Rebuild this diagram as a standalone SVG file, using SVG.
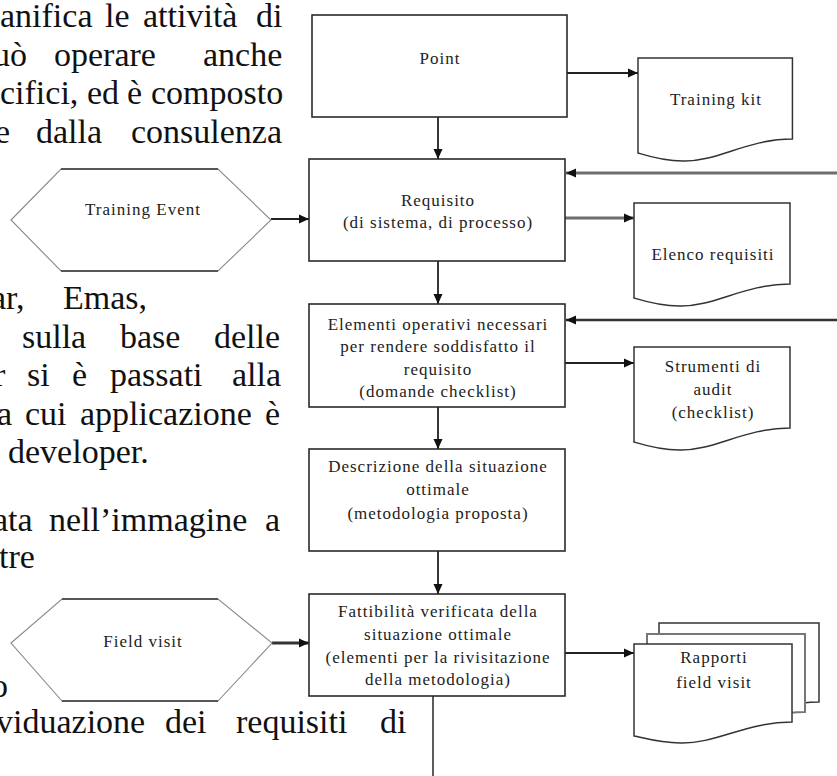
<svg xmlns="http://www.w3.org/2000/svg" width="837" height="776" viewBox="0 0 837 776">
<defs>
<style>
.para{font-family:"Liberation Serif","Times New Roman",serif;font-size:34px;fill:#111}
.lbl{font-family:"Liberation Serif","Times New Roman",serif;font-size:17px;fill:#222;text-anchor:middle;letter-spacing:1px}
.box{fill:#fff;stroke:#2a2a2a;stroke-width:1.6}
.doc{fill:#fff;stroke:#333;stroke-width:1.5}
.hex{fill:#fff;stroke:#8a8a8a;stroke-width:1.1}
.hexe{stroke:#333;stroke-width:1.6}
.c{fill:none;stroke:#222;stroke-width:1.8;marker-end:url(#ah)}
.cg{fill:none;stroke:#6e6e6e;stroke-width:3;marker-end:url(#ah)}
</style>
<marker id="ah" markerUnits="userSpaceOnUse" markerWidth="10" markerHeight="10" viewBox="0 0 10 10" refX="10" refY="5" orient="auto">
<path d="M0,0.5 L10,5 L0,9.5 Z" fill="#111"/>
</marker>
<path id="docshape" d="M0,0 H156 V81 C110,81 80,104 45,103 C25,103 10,98 0,95 Z"/>
</defs>

<g id="paragraph">
<text class="para" y="27"><tspan x="0">anifica</tspan><tspan x="105">le</tspan><tspan x="143">attività</tspan><tspan x="256">di</tspan></text>
<text class="para" y="66"><tspan x="-7">uò</tspan><tspan x="54">operare</tspan><tspan x="203">anche</tspan></text>
<text class="para" y="104"><tspan x="0">cifici,</tspan><tspan x="87">ed</tspan><tspan x="127">è</tspan><tspan x="151">composto</tspan></text>
<text class="para" y="143"><tspan x="-5">e</tspan><tspan x="36">dalla</tspan><tspan x="131">consulenza</tspan></text>
<text class="para" y="309"><tspan x="-9">ar,</tspan><tspan x="63">Emas,</tspan></text>
<text class="para" y="348"><tspan x="22">sulla</tspan><tspan x="120">base</tspan><tspan x="214">delle</tspan></text>
<text class="para" y="386"><tspan x="-6">r</tspan><tspan x="27">si</tspan><tspan x="72">è</tspan><tspan x="110">passati</tspan><tspan x="232">alla</tspan></text>
<text class="para" y="425"><tspan x="-3">a</tspan><tspan x="25">cui</tspan><tspan x="80">applicazione</tspan><tspan x="265">è</tspan></text>
<text class="para" y="463"><tspan x="8">developer.</tspan></text>
<text class="para" y="531"><tspan x="-7">ata</tspan><tspan x="49">nell’immagine</tspan><tspan x="265">a</tspan></text>
<text class="para" y="568"><tspan x="-1">tre</tspan></text>
<text class="para" y="697"><tspan x="-9">o</tspan></text>
<text class="para" y="733"><tspan x="-4">viduazione</tspan><tspan x="165">dei</tspan><tspan x="236">requisiti</tspan><tspan x="380">di</tspan></text>
</g>

<g id="connectors">
<path class="c" d="M567,73 H638"/>
<path class="c" d="M438,117 V159"/>
<path class="cg" d="M837,173 H566"/>
<path class="c" d="M271,219 H309" style="stroke-width:2.2"/>
<path class="cg" d="M565,218 H634"/>
<path class="c" d="M438,261 V304"/>
<path class="c" d="M837,320 H566" style="stroke:#333;stroke-width:2.6"/>
<path class="c" d="M565,363 H634"/>
<path class="c" d="M438,407 V449"/>
<path class="c" d="M438,551 V594"/>
<path class="c" d="M272,643 H309" style="stroke:#333;stroke-width:3"/>
<path class="c" d="M565,653 H634" style="stroke-width:2"/>
<path d="M433,696 V776" fill="none" stroke="#333" stroke-width="1.6"/>
</g>

<g id="point">
<rect class="box" x="312" y="15" width="255" height="102"/>
<text class="lbl" x="440" y="64">Point</text>
</g>

<g id="training-kit">
<use href="#docshape" class="doc" transform="translate(638,58) scale(0.99,1)"/>
<text class="lbl" x="716" y="105">Training kit</text>
</g>

<g id="requisito">
<rect class="box" x="309" y="159" width="256" height="102"/>
<text class="lbl" x="438" y="206">Requisito</text>
<text class="lbl" x="438" y="228">(di sistema, di processo)</text>
</g>

<g id="training-event">
<polygon class="hex" points="11,220 61,169 218,169 271,220 218,271 61,271"/>
<line class="hexe" x1="61" y1="169" x2="218" y2="169"/>
<line class="hexe" x1="61" y1="271" x2="218" y2="271"/>
<text class="lbl" x="143" y="215">Training Event</text>
</g>

<g id="elenco-requisiti">
<use href="#docshape" class="doc" transform="translate(634,203)"/>
<text class="lbl" x="713" y="260">Elenco requisiti</text>
</g>

<g id="elementi">
<rect class="box" x="309" y="304" width="256" height="103"/>
<text class="lbl" x="438" y="330">Elementi operativi necessari</text>
<text class="lbl" x="438" y="352">per rendere soddisfatto il</text>
<text class="lbl" x="438" y="375">requisito</text>
<text class="lbl" x="438" y="397">(domande checklist)</text>
</g>

<g id="strumenti">
<use href="#docshape" class="doc" transform="translate(634,347)"/>
<text class="lbl" x="713" y="372">Strumenti di</text>
<text class="lbl" x="713" y="395">audit</text>
<text class="lbl" x="713" y="418">(checklist)</text>
</g>

<g id="descrizione">
<rect class="box" x="309" y="449" width="256" height="102"/>
<text class="lbl" x="438" y="472">Descrizione della situazione</text>
<text class="lbl" x="438" y="495">ottimale</text>
<text class="lbl" x="438" y="519">(metodologia proposta)</text>
</g>

<g id="fattibilita">
<rect class="box" x="309" y="594" width="256" height="102"/>
<text class="lbl" x="438" y="617">Fattibilità verificata della</text>
<text class="lbl" x="438" y="640">situazione ottimale</text>
<text class="lbl" x="438" y="663">(elementi per la rivisitazione</text>
<text class="lbl" x="438" y="685">della metodologia)</text>
</g>

<g id="field-visit">
<polygon class="hex" points="11,643 62,599 218,599 272,643 218,701 62,701"/>
<line class="hexe" x1="62" y1="599" x2="218" y2="599"/>
<line class="hexe" x1="62" y1="701" x2="218" y2="701"/>
<text class="lbl" x="143" y="647">Field visit</text>
</g>

<g id="rapporti">
<path class="doc" d="M659,623 H819 V702 C772,702 742,724 706,723 C686,723 670,718 659,716 Z"/>
<path class="doc" d="M647,634 H805 V712 C759,712 729,734 693,733 C673,733 657,728 647,726 Z" style="stroke:#777;stroke-width:2"/>
<path class="doc" d="M634,644 H792 V722 C746,722 716,744 680,743 C660,743 644,738 634,736 Z"/>
<text class="lbl" x="714" y="663">Rapporti</text>
<text class="lbl" x="714" y="688">field visit</text>
</g>
</svg>
